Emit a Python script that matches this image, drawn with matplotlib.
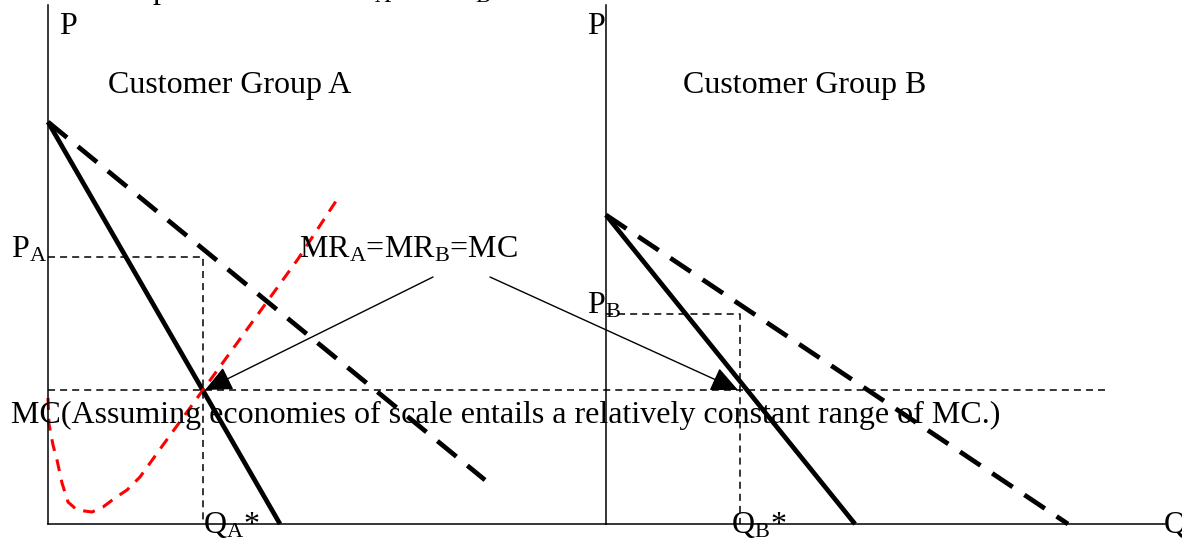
import matplotlib
matplotlib.use('Agg')
import matplotlib.pyplot as plt

plt.rcParams['font.family'] = ['Liberation Serif', 'DejaVu Serif']
plt.rcParams['mathtext.fontset'] = 'custom'
plt.rcParams['mathtext.rm'] = 'Liberation Serif'
plt.rcParams['mathtext.it'] = 'Liberation Serif:italic'

# group A (quantity, price) in diagram units, origin at the axes corner
mr_a_q = [0, 232]
mr_a_p = [402, 0]
dem_a_q = [0, 437]
dem_a_p = [402, 44]
mc_curve_q = [0, 1, 5, 9, 14, 20, 29, 44, 55, 67, 79, 92, 115, 155, 200, 250, 292]
mc_curve_p = [126, 100, 79, 64, 41, 22, 14, 12, 17, 26, 34, 47, 79, 134, 196, 265, 329]
qa_star = 155
pa = 267

# group B
mr_b_q = [0, 249]
mr_b_p = [309, 0]
dem_b_q = [0, 462]
dem_b_p = [309, 0]
qb_star = 134
pb = 210

mc_level = 134
mc_line_end = 1057  # in group A units, runs across both panels

W, H = 1182, 539
fig = plt.figure(figsize=(W / 100, H / 100), dpi=100)

ax_a = fig.add_axes([48 / W, 15 / H, 558 / W, 519 / H])
ax_b = fig.add_axes([606 / W, 15 / H, 559 / W, 519 / H])
for ax, xmax in ((ax_a, 558), (ax_b, 559)):
    ax.set_xlim(0, xmax)
    ax.set_ylim(0, 519)
    ax.set_xticks([])
    ax.set_yticks([])
    ax.patch.set_alpha(0)
    for s in ('top', 'right'):
        ax.spines[s].set_visible(False)
    for s in ('left', 'bottom'):
        ax.spines[s].set_linewidth(1.1)

thin = dict(color='black', lw=1.1, dashes=(4.6, 3.3), clip_on=False)
thick = dict(color='black', lw=3.4, solid_capstyle='butt', clip_on=False)

# panel A
ax_a.plot(mr_a_q, mr_a_p, **thick)
ax_a.plot(dem_a_q, dem_a_p, dashes=(5.2, 3.0), **thick)
ax_a.plot(mc_curve_q, mc_curve_p, color='#ff0000', lw=2.2, dashes=(3.9, 2.9), clip_on=False)
ax_a.plot([0, qa_star, qa_star], [pa, pa, 0], **thin)
ax_a.plot([0, mc_line_end], [mc_level, mc_level], **thin)

# panel B
ax_b.plot(mr_b_q, mr_b_p, **thick)
ax_b.plot(dem_b_q, dem_b_p, dashes=(5.2, 3.0), **thick)
ax_b.plot([0, qb_star, qb_star], [pb, pb, 0], **thin)

arrow = dict(arrowstyle='-|>,head_length=0.7,head_width=0.32', color='black',
             lw=1.0, shrinkA=0, shrinkB=0, mutation_scale=24)
ax_a.annotate('', xy=(157, mc_level), xytext=(385, 247), arrowprops=arrow,
              annotation_clip=False)
ax_b.annotate('', xy=(qb_star - 2, mc_level), xytext=(442, 247),
              textcoords=ax_a.transData, arrowprops=arrow, annotation_clip=False)

# text overlay in pixel coordinates
ov = fig.add_axes([0, 0, 1, 1])
ov.set_xlim(0, W)
ov.set_ylim(H, 0)
ov.axis('off')
fs = 23
ov.text(152, -2, r'points where MR$_\mathrm{A}$ = MR$_\mathrm{B}$ = MC.', fontsize=fs, va='baseline')
ov.text(59, 34, 'P', fontsize=fs, va='baseline')
ov.text(587, 34, 'P', fontsize=fs, va='baseline')
ov.text(108, 93, 'Customer Group A', fontsize=fs, va='baseline')
ov.text(683, 93, 'Customer Group B', fontsize=fs, va='baseline')
ov.text(11, 258, r'P$_\mathrm{A}$', fontsize=fs, va='baseline')
ov.text(587, 313, r'P$_\mathrm{B}$', fontsize=fs, va='baseline')
ov.text(299, 257, r'MR$_\mathrm{A}$=MR$_\mathrm{B}$=MC', fontsize=fs, va='baseline')
ov.text(11, 423, 'MC(Assuming economies of scale entails a relatively constant range of MC.)',
        fontsize=fs, va='baseline')
ov.text(203, 533, r'Q$_\mathrm{A}$*', fontsize=fs, va='baseline')
ov.text(731, 533, r'Q$_\mathrm{B}$*', fontsize=fs, va='baseline')
ov.text(1164, 533, 'Q', fontsize=fs, va='baseline')

fig.savefig('out.png', dpi=100)
